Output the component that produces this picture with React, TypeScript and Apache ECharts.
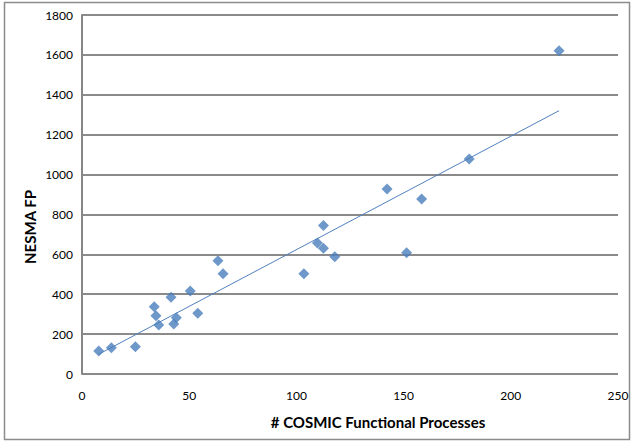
import React, { useEffect, useRef } from "react";
import * as echarts from "echarts";

const cosmicFP: number[] = [7.8, 13.7, 24.9, 33.7, 34.5, 35.8, 41.5, 42.8, 44, 50.5, 54, 63.4, 65.8, 103.5, 112.6, 109.8, 112.6, 117.9, 142.3, 158.4, 151.4, 180.6, 222.5];
const nesmaFP: number[] = [115, 132, 137, 337, 292, 246, 385, 251, 282, 416, 304, 568, 503, 503, 744, 657, 630, 588, 928, 877, 608, 1078, 1621];

const xTitle = "# COSMIC Functional Processes";
const yTitle = "NESMA FP";

function linearFit(xs: number[], ys: number[]) {
  const n = xs.length;
  const mx = xs.reduce((a, b) => a + b, 0) / n;
  const my = ys.reduce((a, b) => a + b, 0) / n;
  let sxy = 0, sxx = 0;
  for (let i = 0; i < n; i++) {
    sxy += (xs[i] - mx) * (ys[i] - my);
    sxx += (xs[i] - mx) * (xs[i] - mx);
  }
  const slope = sxy / sxx;
  return { slope, intercept: my - slope * mx };
}

export default function App() {
  const ref = useRef<HTMLDivElement>(null);
  useEffect(() => {
    document.body.style.margin = "0";
    if (!ref.current) return;
    const chart = echarts.init(ref.current, undefined, { renderer: "svg" });
    const { slope, intercept } = linearFit(cosmicFP, nesmaFP);
    const xmin = Math.min(...cosmicFP);
    const xmax = Math.max(...cosmicFP);
    const trend = [
      [xmin, intercept + slope * xmin],
      [xmax, intercept + slope * xmax],
    ];
    const font = "Lato, 'Open Sans', sans-serif";
    chart.setOption({
      animation: false,
      backgroundColor: "#ffffff",
      grid: { left: 82, right: 16, top: 15, bottom: 68, containLabel: false },
      xAxis: {
        type: "value",
        min: 0,
        max: 250,
        interval: 50,
        axisLine: { show: false },
        axisTick: { show: false },
        splitLine: { show: false },
        axisLabel: { color: "#000", fontSize: 12, fontFamily: font, margin: 15, formatter: (v: number) => String(v) },
      },
      yAxis: {
        type: "value",
        min: 0,
        max: 1800,
        interval: 200,
        axisLine: { show: true, lineStyle: { color: "#868686", width: 2 } },
        axisTick: { show: false },
        splitLine: { show: true, lineStyle: { color: "#8a8a8a", width: 2 } },
        axisLabel: { color: "#000", fontSize: 12, fontFamily: font, margin: 9, formatter: (v: number) => String(v) },
      },
      graphic: [
        {
          type: "rect",
          shape: { x: 4.5, y: 2.5, width: 625, height: 437 },
          style: { fill: "none", stroke: "#8c8c8c", lineWidth: 1.5 },
          silent: true,
        },
        {
          type: "text",
          x: 378,
          y: 422,
          style: { text: xTitle, fontSize: 15, fontWeight: "bold", fontFamily: font, fill: "#000", align: "center", verticalAlign: "middle" },
        },
        {
          type: "text",
          x: 30,
          y: 227,
          rotation: Math.PI / 2,
          style: { text: yTitle, fontSize: 15, fontWeight: "bold", fontFamily: font, fill: "#000", align: "center", verticalAlign: "middle" },
        },
      ],
      series: [
        {
          type: "line",
          data: trend,
          showSymbol: false,
          symbol: "none",
          lineStyle: { color: "#4F81BD", width: 1 },
          z: 3,
        },
        {
          type: "scatter",
          data: cosmicFP.map((x, i) => [x, nesmaFP[i]]),
          symbol: "diamond",
          symbolSize: 11,
          itemStyle: { color: "#4A7EBB" },
          z: 4,
        },
      ],
    });
    return () => chart.dispose();
  }, []);
  return <div ref={ref} style={{ width: 634, height: 442 }} />;
}
